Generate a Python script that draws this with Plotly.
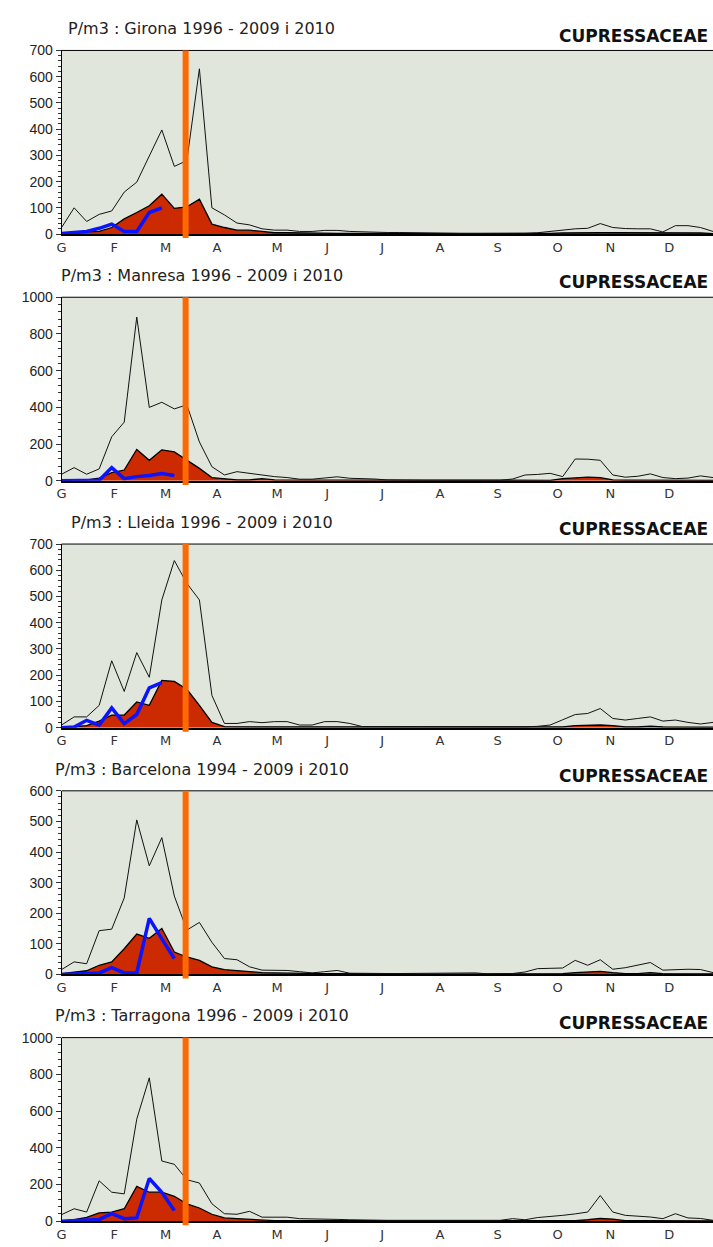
import plotly.graph_objects as go

# ---------------- data ----------------
weeks = list(range(53))
month_letters = ["G", "F", "M", "A", "M", "J", "J", "A", "S", "O", "N", "D"]
current_week = 9.9
species = "CUPRESSACEAE"

titles = [
    "P/m3 : Girona 1996 - 2009 i 2010",
    "P/m3 : Manresa 1996 - 2009 i 2010",
    "P/m3 : Lleida 1996 - 2009 i 2010",
    "P/m3 : Barcelona 1994 - 2009 i 2010",
    "P/m3 : Tarragona 1996 - 2009 i 2010",
]
y_max = [700, 1000, 700, 600, 1000]
y_step = [100, 200, 100, 100, 200]

girona_max = [25, 100, 48, 75, 88, 160, 198, 300, 397, 258, 280, 630, 100, 73, 42, 35, 20, 15, 15, 10,
              10, 14, 14, 10, 8, 8, 6, 6, 5, 3, 3, 2, 2, 2, 2, 2, 3, 3, 5, 10,
              15, 20, 22, 40, 25, 21, 20, 20, 8, 32, 32, 25, 10]
girona_mean = [2, 3, 8, 10, 25, 58, 82, 108, 152, 98, 104, 133, 38, 25, 15, 15, 10, 5, 5, 4,
               3, 3, 3, 3, 3, 3, 2, 1, 1, 1, 1, 1, 1, 1, 1, 1, 2, 2, 1, 3,
               4, 5, 5, 5, 5, 5, 4, 4, 3, 4, 4, 4, 2]
girona_2010 = [2, 5, 10, 22, 38, 10, 10, 82, 100]

manresa_max = [36, 72, 36, 65, 240, 320, 892, 400, 428, 392, 414, 212, 77, 32, 50, 41, 32, 23, 18, 9,
               9, 14, 22, 14, 14, 10, 5, 3, 3, 3, 3, 3, 3, 3, 3, 3, 10, 32, 35, 41,
               23, 119, 118, 112, 32, 20, 25, 38, 18, 12, 15, 27, 18]
manresa_mean = [2, 3, 5, 15, 45, 59, 171, 112, 169, 158, 113, 68, 18, 12, 5, 5, 12, 5, 5, 3,
                3, 5, 5, 3, 3, 3, 2, 1, 1, 1, 1, 1, 1, 1, 1, 1, 2, 2, 2, 3,
                12, 18, 20, 18, 5, 4, 4, 4, 5, 5, 3, 4, 3]
manresa_2010 = [0, 0, 0, 3, 72, 12, 23, 29, 40, 29]

lleida_max = [10, 41, 41, 85, 255, 138, 286, 192, 487, 637, 550, 487, 123, 16, 16, 23, 19, 23, 23, 10,
              10, 23, 23, 16, 4, 4, 4, 3, 3, 3, 2, 2, 2, 2, 2, 2, 3, 3, 5, 10,
              30, 50, 54, 73, 35, 29, 35, 41, 25, 29, 20, 14, 20]
lleida_mean = [0, 3, 8, 25, 48, 48, 98, 85, 180, 176, 146, 85, 20, 4, 3, 3, 3, 3, 3, 2,
               2, 3, 3, 2, 2, 2, 1, 1, 1, 1, 1, 1, 1, 1, 1, 1, 1, 1, 2, 2,
               3, 8, 10, 10, 8, 3, 3, 6, 3, 2, 2, 2, 2]
lleida_2010 = [0, 2, 28, 10, 75, 15, 50, 152, 172]

barcelona_max = [16, 41, 35, 143, 148, 250, 505, 355, 447, 256, 145, 170, 105, 52, 48, 25, 14, 14, 13, 9,
                 5, 9, 13, 4, 3, 3, 3, 3, 3, 3, 3, 3, 3, 5, 2, 2, 3, 8, 19, 20,
                 21, 46, 30, 48, 17, 22, 30, 39, 14, 16, 17, 16, 6]
barcelona_mean = [3, 7, 12, 30, 41, 84, 132, 118, 150, 73, 57, 46, 25, 16, 12, 9, 6, 5, 4, 3,
                  3, 3, 3, 2, 2, 2, 2, 1, 1, 1, 1, 1, 1, 2, 1, 1, 1, 2, 2, 2,
                  3, 6, 8, 10, 6, 3, 3, 6, 3, 3, 3, 3, 2]
barcelona_2010 = [0, 2, 5, 5, 22, 5, 5, 183, 116, 52]

tarragona_max = [36, 68, 50, 220, 158, 149, 556, 781, 328, 310, 226, 208, 95, 41, 38, 54, 22, 20, 22, 14,
                 14, 14, 10, 8, 6, 5, 5, 5, 5, 5, 5, 5, 5, 5, 5, 5, 14, 8, 20, 25,
                 32, 40, 50, 140, 50, 32, 28, 23, 14, 41, 18, 15, 5]
tarragona_mean = [2, 9, 21, 45, 50, 68, 190, 158, 158, 136, 95, 72, 38, 18, 14, 9, 5, 3, 3, 3,
                  3, 3, 3, 2, 2, 2, 2, 1, 1, 1, 1, 1, 1, 1, 1, 1, 2, 2, 2, 2,
                  2, 3, 8, 15, 12, 3, 3, 3, 2, 3, 2, 2, 2]
tarragona_2010 = [0, 3, 8, 10, 41, 14, 18, 233, 158, 59]

max_series = [girona_max, manresa_max, lleida_max, barcelona_max, tarragona_max]
mean_series = [girona_mean, manresa_mean, lleida_mean, barcelona_mean, tarragona_mean]
cur_series = [girona_2010, manresa_2010, lleida_2010, barcelona_2010, tarragona_2010]

# ---------------- styling / layout ----------------
W, H = 713, 1247
PANEL = 250
PLOT_TOP, PLOT_BOT = 43, 229
X_LEFT = 57
BG = "#E1E6DD"
RED = "#CC2A00"
BLUE = "#0A14FF"
ORANGE = "#FF6A00"
# where the month letters sit along the week axis (layout)
TICK_WEEKS = [0, 4.2, 8.3, 12.4, 17.2, 21.2, 25.6, 30.2, 34.8, 39.6, 43.8, 48.5]

fig = go.Figure()
layout = dict(
    width=W, height=H,
    margin=dict(l=0, r=0, t=0, b=0),
    paper_bgcolor="white",
    plot_bgcolor=BG,
    showlegend=False,
    annotations=[], shapes=[],
)

for i in range(5):
    xa = "x" if i == 0 else f"x{i+1}"
    ya = "y" if i == 0 else f"y{i+1}"
    xkey = "xaxis" if i == 0 else f"xaxis{i+1}"
    ykey = "yaxis" if i == 0 else f"yaxis{i+1}"
    top = 1 - (PANEL * i + PLOT_TOP) / H
    bot = 1 - (PANEL * i + PLOT_BOT) / H

    fig.add_trace(go.Scatter(x=weeks, y=mean_series[i], xaxis=xa, yaxis=ya, mode="lines",
                             fill="tozeroy", fillcolor=RED,
                             line=dict(color="black", width=1.3), hoverinfo="skip"))
    fig.add_trace(go.Scatter(x=weeks, y=max_series[i], xaxis=xa, yaxis=ya, mode="lines",
                             line=dict(color="#111111", width=1), hoverinfo="skip"))
    fig.add_trace(go.Scatter(x=weeks[:len(cur_series[i])], y=cur_series[i], xaxis=xa, yaxis=ya,
                             mode="lines", line=dict(color=BLUE, width=3.5), hoverinfo="skip"))

    layout[xkey] = dict(
        domain=[X_LEFT / W, 1.0], range=[0, 52], anchor=ya,
        tickmode="array", tickvals=TICK_WEEKS, ticktext=month_letters,
        ticks="", showgrid=False, zeroline=False,
        showline=True, linecolor="black", linewidth=2,
        tickfont=dict(family="DejaVu Sans", size=13, color="#333333"),
        fixedrange=True,
    )
    layout[ykey] = dict(
        domain=[bot, top], range=[0, y_max[i]], anchor=xa,
        dtick=y_step[i], tick0=0, ticks="outside", ticklen=5, tickwidth=1, tickcolor="#333",
        minor=dict(dtick=y_step[i] / 5, ticks="outside", ticklen=3, tickcolor="#333", showgrid=False),
        showgrid=False, zeroline=False, showline=True, linecolor="black", linewidth=1,
        tickfont=dict(family="Liberation Sans", size=14, color="#222222"),
        fixedrange=True,
    )
    # top border of plot
    layout["shapes"].append(dict(type="line", xref=f"{xa} domain", yref=f"{ya} domain",
                                 x0=0, x1=1, y0=1, y1=1, line=dict(color="black", width=1)))
    # current week marker
    layout["shapes"].append(dict(type="line", xref=xa, yref=f"{ya} domain",
                                 x0=current_week, x1=current_week, y0=-0.022, y1=1,
                                 line=dict(color=ORANGE, width=6)))
    layout["annotations"].append(dict(
        text=titles[i], xref="paper", yref="paper",
        x=198 / W, y=1 - (PANEL * i + 21) / H, xanchor="center", yanchor="middle",
        showarrow=False, font=dict(family="DejaVu Sans", size=16, color="#222222")))
    layout["annotations"].append(dict(
        text=f"<b>{species}</b>", xref="paper", yref="paper",
        x=710 / W, y=1 - (PANEL * i + 28) / H, xanchor="right", yanchor="middle",
        showarrow=False, font=dict(family="DejaVu Sans", size=17, color="#111111")))

fig.update_layout(**layout)
fig.write_html("out.html", config={"displayModeBar": False},
               post_script="document.body.style.margin='0';document.body.style.overflow='hidden';")
